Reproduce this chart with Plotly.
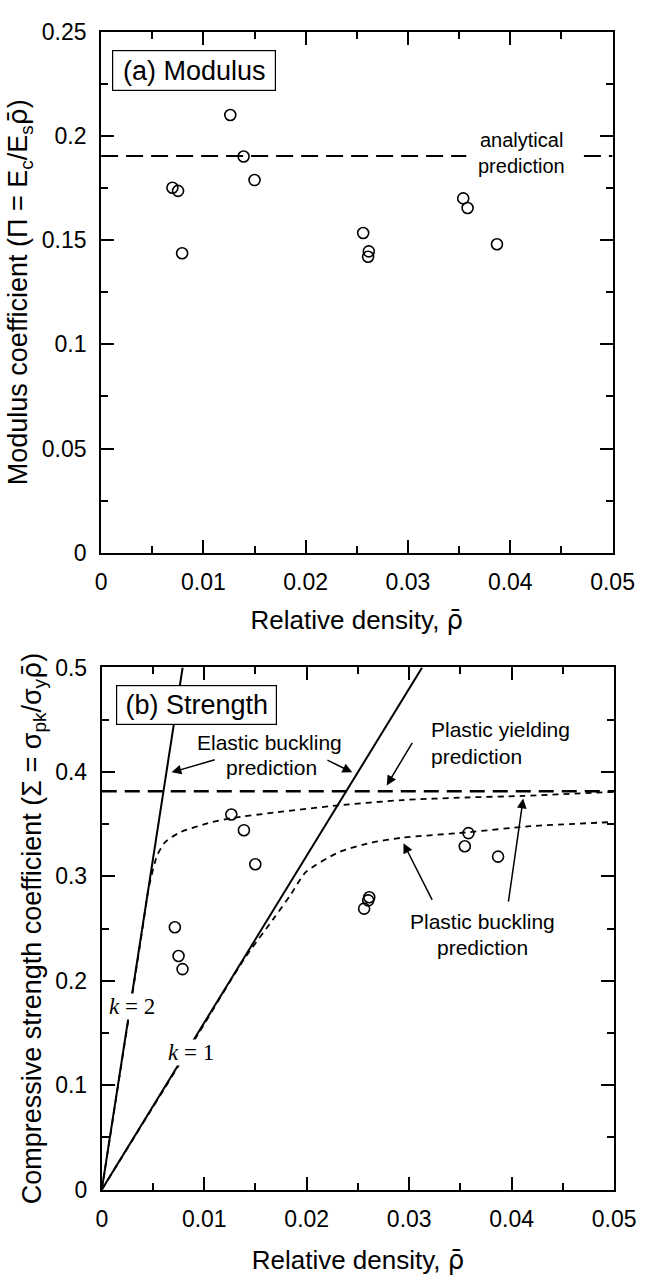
import plotly.graph_objects as go

# ---------------- data ----------------
# (a) Modulus
rho_a = [0.00697, 0.00752, 0.00792, 0.01263, 0.01393, 0.01500,
         0.02562, 0.02610, 0.02617, 0.03540, 0.03583, 0.03870]
pi_a = [0.1751, 0.1736, 0.1437, 0.2100, 0.1901, 0.1788,
        0.1534, 0.1420, 0.1446, 0.1700, 0.1654, 0.1480]
analytical_x = [0.0, 0.0357, None, 0.0472, 0.05]
analytical_y = [0.1904, 0.1904, None, 0.1904, 0.1904]

# (b) Strength
rho_b = [0.00713, 0.00749, 0.00788, 0.01264, 0.01387, 0.01498,
         0.02560, 0.02600, 0.02610, 0.03542, 0.03578, 0.03867]
sigma_b = [0.2513, 0.2237, 0.2112, 0.3592, 0.3442, 0.3116,
           0.2691, 0.2770, 0.2800, 0.3288, 0.3414, 0.3189]

yield_x = [0.0, 0.05]
yield_y = [0.3815, 0.3815]

elastic_k2_x = [0.0, 0.00789]
elastic_k2_y = [0.0, 0.5]
elastic_k1_x = [0.0, 0.03126]
elastic_k1_y = [0.0, 0.5]

plastic_k2_x = [0.0, 0.0039, 0.0046, 0.0054, 0.0062, 0.0076, 0.0104, 0.0128,
                0.0168, 0.0231, 0.0293, 0.0355, 0.0411, 0.0480, 0.0500]
plastic_k2_y = [0.0, 0.245, 0.290, 0.320, 0.333, 0.342, 0.351, 0.356,
                0.361, 0.368, 0.373, 0.3755, 0.377, 0.380, 0.381]
plastic_k1_x = [0.0, 0.0094, 0.0139, 0.0168, 0.0184, 0.0199, 0.0231, 0.0262,
                0.0293, 0.0355, 0.0418, 0.0498]
plastic_k1_y = [0.0, 0.149, 0.221, 0.260, 0.282, 0.304, 0.323, 0.332,
                0.337, 0.342, 0.348, 0.352]

# ---------------- figure ----------------
W, H = 663, 1284
SANS = "Liberation Sans, Arial, Helvetica, sans-serif"
SERIF = "Liberation Serif, Times New Roman, serif"

RHO = '<span style="font-family:DejaVu Sans">\u03c1\u0304</span>'


def px_x(p):
    return p / W


def px_y(p):
    return 1 - p / H


fig = go.Figure()

# top panel
fig.add_trace(go.Scatter(x=analytical_x, y=analytical_y, mode="lines",
                         line=dict(color="black", width=2, dash="17px,8px"),
                         xaxis="x", yaxis="y", showlegend=False, connectgaps=False))
fig.add_trace(go.Scatter(x=rho_a, y=pi_a, mode="markers",
                         marker=dict(symbol="circle-open", size=11, color="black",
                                     line=dict(width=1.6, color="black")),
                         xaxis="x", yaxis="y", showlegend=False))

# bottom panel
fig.add_trace(go.Scatter(x=elastic_k2_x, y=elastic_k2_y, mode="lines",
                         line=dict(color="black", width=2),
                         xaxis="x2", yaxis="y2", showlegend=False))
fig.add_trace(go.Scatter(x=elastic_k1_x, y=elastic_k1_y, mode="lines",
                         line=dict(color="black", width=2),
                         xaxis="x2", yaxis="y2", showlegend=False))
fig.add_trace(go.Scatter(x=plastic_k2_x, y=plastic_k2_y, mode="lines",
                         line=dict(color="black", width=1.8, dash="6px,5px",
                                   shape="spline", smoothing=0.6),
                         xaxis="x2", yaxis="y2", showlegend=False))
fig.add_trace(go.Scatter(x=plastic_k1_x, y=plastic_k1_y, mode="lines",
                         line=dict(color="black", width=1.8, dash="6px,5px",
                                   shape="spline", smoothing=0.6),
                         xaxis="x2", yaxis="y2", showlegend=False))
fig.add_trace(go.Scatter(x=yield_x, y=yield_y, mode="lines",
                         line=dict(color="black", width=2.5, dash="15px,8px"),
                         xaxis="x2", yaxis="y2", showlegend=False))
fig.add_trace(go.Scatter(x=rho_b, y=sigma_b, mode="markers",
                         marker=dict(symbol="circle-open", size=11, color="black",
                                     line=dict(width=1.6, color="black")),
                         xaxis="x2", yaxis="y2", showlegend=False))

axis_common = dict(
    showline=True, linecolor="black", linewidth=2, mirror="ticks",
    ticks="inside", ticklen=13, tickwidth=2, tickcolor="black",
    showgrid=False, zeroline=False,
    tickfont=dict(family=SANS, size=23, color="black"),
    ticklabelstandoff=8,
)

fig.update_layout(
    width=W, height=H,
    margin=dict(l=0, r=0, t=0, b=0),
    paper_bgcolor="white", plot_bgcolor="white",
    font=dict(family=SANS, color="black"),
    xaxis=dict(axis_common, domain=[99.3 / W, 633.3 / W], anchor="y",
               range=[0, 0.05], dtick=0.01, tick0=0,
               minor=dict(ticks="inside", ticklen=7, tickwidth=2, tickcolor="black",
                          dtick=0.005, showgrid=False),
               title=dict(text="Relative density, " + RHO, font=dict(size=26), standoff=16)),
    yaxis=dict(axis_common, domain=[px_y(551), px_y(19)], anchor="x",
               range=[0, 0.25], dtick=0.05, tick0=0,
               minor=dict(ticks="inside", ticklen=7, tickwidth=2, tickcolor="black",
                          dtick=0.025, showgrid=False),
               title=dict(text="Modulus coefficient (\u03a0 = E<sub>c</sub>/E<sub>s</sub>" + RHO + ")",
                          font=dict(size=27), standoff=6)),
    xaxis2=dict(axis_common, domain=[100 / W, 635 / W], anchor="y2",
                range=[0, 0.05], dtick=0.01, tick0=0,
                minor=dict(ticks="inside", ticklen=7, tickwidth=2, tickcolor="black",
                           dtick=0.005, showgrid=False),
                title=dict(text="Relative density, " + RHO, font=dict(size=26), standoff=20)),
    yaxis2=dict(axis_common, domain=[px_y(1201), px_y(668)], anchor="x2",
                range=[0, 0.5], dtick=0.1, tick0=0,
                minor=dict(ticks="inside", ticklen=7, tickwidth=2, tickcolor="black",
                           dtick=0.05, showgrid=False),
                title=dict(text="Compressive strength coefficient (\u03a3 = \u03c3<sub>pk</sub>/\u03c3<sub>y</sub>" + RHO + ")",
                           font=dict(size=27), standoff=6)),
)

ann = []
# boxed panel labels
ann.append(dict(text="(a) Modulus", xref="paper", yref="paper",
                x=px_x(196.6), y=px_y(58.8), xanchor="center", yanchor="middle",
                showarrow=False, font=dict(size=27), bordercolor="black", borderwidth=1.2,
                borderpad=3, bgcolor="white", width=156, height=33))
ann.append(dict(text="(b) Strength", xref="paper", yref="paper",
                x=px_x(199.4), y=px_y(706.7), xanchor="center", yanchor="middle",
                showarrow=False, font=dict(size=27), bordercolor="black", borderwidth=1.2,
                borderpad=3, bgcolor="white", width=153, height=32))

# top panel text
ann.append(dict(text="analytical", xref="x", yref="y", x=0.0411, y=0.1917 + 0.0061,
                showarrow=False, font=dict(size=20), xanchor="center", yanchor="middle"))
ann.append(dict(text="prediction", xref="x", yref="y", x=0.0411, y=0.1917 - 0.0061,
                showarrow=False, font=dict(size=20), xanchor="center", yanchor="middle"))

# bottom panel text
small = dict(size=21)
for txt, x, y, xa in [
    ("Elastic buckling", 0.01632, 0.4277, "center"),
    ("prediction", 0.01661, 0.4043, "center"),
    ("Plastic yielding", 0.03197, 0.4402, "left"),
    ("prediction", 0.03197, 0.4152, "left"),
    ("Plastic buckling", 0.03712, 0.2572, "center"),
    ("prediction", 0.03712, 0.2322, "center"),
]:
    ann.append(dict(text=txt, xref="x2", yref="y2", x=x, y=y, showarrow=False,
                    font=small, xanchor=xa, yanchor="middle"))

# k labels (white background hides the lines behind them)
ann.append(dict(text="<i>k</i> = 2", xref="x2", yref="y2", x=0.00295, y=0.1752,
                showarrow=False, font=dict(family=SERIF, size=23), bgcolor="white",
                xanchor="center", yanchor="middle", borderpad=0))
ann.append(dict(text="<i>k</i> = 1", xref="x2", yref="y2", x=0.00869, y=0.1311,
                showarrow=False, font=dict(family=SERIF, size=23), bgcolor="white",
                xanchor="center", yanchor="middle", borderpad=0))

# arrows: (tip_x, tip_y, tail_x, tail_y)
arrows = [
    (0.00681, 0.3996, 0.01117, 0.4120),
    (0.02444, 0.3996, 0.02187, 0.4120),
    (0.02781, 0.3871, 0.03038, 0.4293),
    (0.02944, 0.3317, 0.03231, 0.2760),
    (0.04112, 0.3745, 0.03966, 0.2744),
]
for tx, ty, sx, sy in arrows:
    ann.append(dict(text="", xref="x2", yref="y2", x=tx, y=ty,
                    axref="x2", ayref="y2", ax=sx, ay=sy,
                    showarrow=True, arrowhead=2, arrowsize=1.3, arrowwidth=1.5,
                    arrowcolor="black", standoff=0, startstandoff=0))

fig.update_layout(annotations=ann)

fig.write_html("out.html")
